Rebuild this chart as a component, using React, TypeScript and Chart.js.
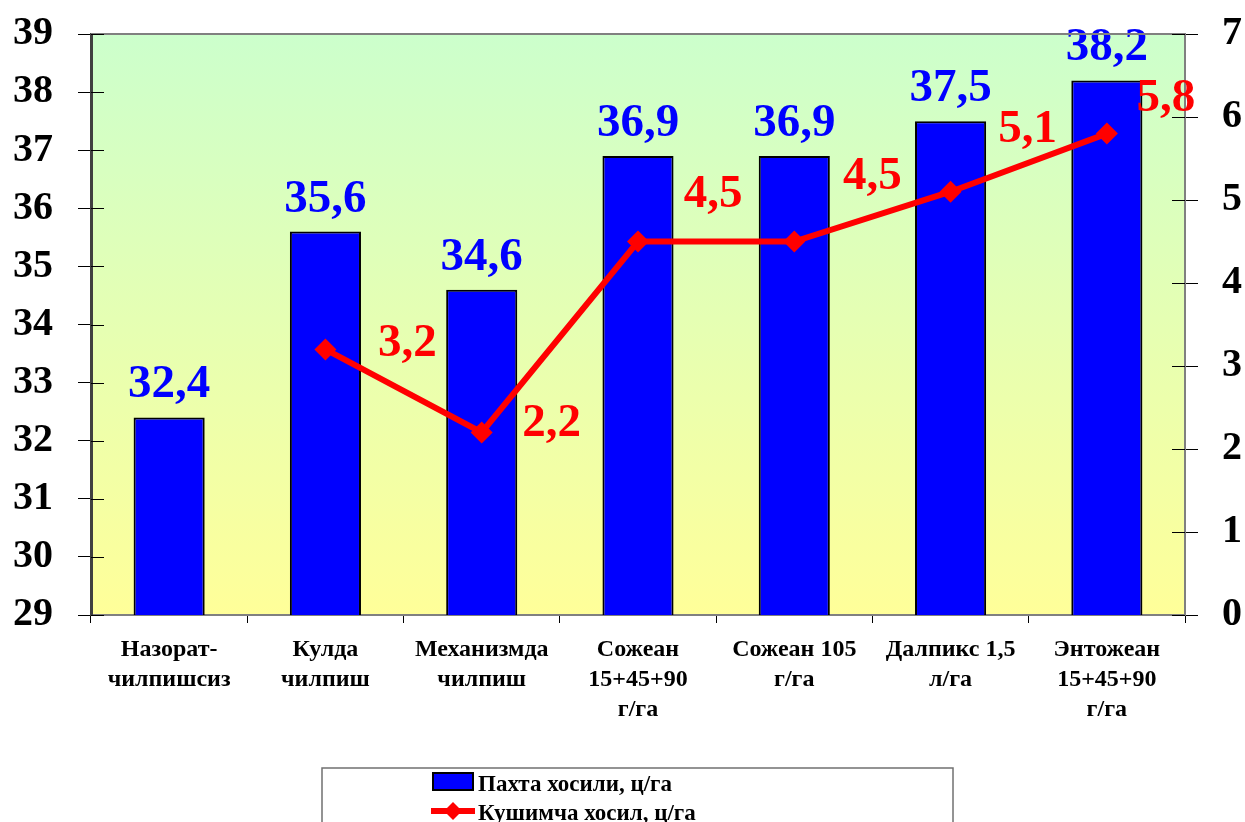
import React, { useEffect, useRef } from "react";
import { Chart, registerables } from "chart.js";

Chart.register(...registerables);

const categories: string[][] = [
  ["Назорат-", "чилпишсиз"],
  ["Кулда", "чилпиш"],
  ["Механизмда", "чилпиш"],
  ["Сожеан", "15+45+90", "г/га"],
  ["Сожеан 105", "г/га"],
  ["Далпикс 1,5", "л/га"],
  ["Энтожеан", "15+45+90", "г/га"],
];
const cottonYield = [32.4, 35.6, 34.6, 36.9, 36.9, 37.5, 38.2];
const extraYield: (number | null)[] = [null, 3.2, 2.2, 4.5, 4.5, 5.1, 5.8];
const leftAxisRange = [29, 39];
const rightAxisRange = [0, 7];
const seriesNames = ["Пахта хосили, ц/га", "Кушимча хосил, ц/га"];
// label offsets (dx, dy) for line value labels relative to the point
const lineLabelOffsets: (number[] | null)[] = [null, [82, -9], [70, -12], [75, -51], [78, -69], [77, -66], [59, -39]];

const FONT = "'Liberation Serif', 'Times New Roman', serif";
const fmt = (v: number) => v.toFixed(1).replace(".", ",");

const bgPlugin = {
  id: "bgPlugin",
  beforeDraw(chart: any) {
    const { ctx, chartArea: a } = chart;
    const g = ctx.createLinearGradient(0, a.top, 0, a.bottom);
    g.addColorStop(0, "#ccffcc");
    g.addColorStop(1, "#ffff99");
    ctx.save();
    ctx.fillStyle = g;
    ctx.fillRect(a.left, a.top, a.right - a.left, a.bottom - a.top);
    ctx.restore();
  },
  afterDraw(chart: any) {
    const { ctx, chartArea: a } = chart;
    ctx.save();
    ctx.strokeStyle = "#808080";
    ctx.lineWidth = 2;
    ctx.beginPath();
    ctx.moveTo(a.left, a.top);
    ctx.lineTo(a.right, a.top);
    ctx.stroke();
    // inner tick marks
    ctx.strokeStyle = "#000";
    ctx.lineWidth = 1;
    const yl = chart.scales.y;
    const yr = chart.scales.y1;
    yl.ticks.forEach((t: any) => {
      const y = Math.round(yl.getPixelForValue(t.value)) + 0.5;
      ctx.beginPath();
      ctx.moveTo(a.left, y);
      ctx.lineTo(a.left + 13, y);
      ctx.stroke();
    });
    yr.ticks.forEach((t: any) => {
      const y = Math.round(yr.getPixelForValue(t.value)) + 0.5;
      ctx.beginPath();
      ctx.moveTo(a.right - 13, y);
      ctx.lineTo(a.right, y);
      ctx.stroke();
    });
    ctx.restore();

    // legend
    const lx = 322, ly = 768, lw = 631;
    ctx.save();
    ctx.strokeStyle = "#707070";
    ctx.lineWidth = 1.5;
    ctx.strokeRect(lx, ly, lw, 100);
    ctx.fillStyle = "#0000ff";
    ctx.fillRect(433, 773, 40, 17);
    ctx.strokeStyle = "#000";
    ctx.lineWidth = 2;
    ctx.strokeRect(433, 773, 40, 17);
    ctx.strokeStyle = "#ff0000";
    ctx.lineWidth = 6;
    ctx.beginPath();
    ctx.moveTo(431, 811);
    ctx.lineTo(475, 811);
    ctx.stroke();
    ctx.fillStyle = "#ff0000";
    ctx.beginPath();
    ctx.moveTo(453 - 9, 811);
    ctx.lineTo(453, 811 - 9);
    ctx.lineTo(453 + 9, 811);
    ctx.lineTo(453, 811 + 9);
    ctx.closePath();
    ctx.fill();
    ctx.fillStyle = "#000";
    ctx.font = `bold 23px ${FONT}`;
    ctx.textAlign = "left";
    ctx.textBaseline = "alphabetic";
    ctx.fillText(seriesNames[0], 478, 791);
    ctx.fillText(seriesNames[1], 478, 820);
    ctx.restore();
  },
};

const labelPlugin = {
  id: "labelPlugin",
  afterDatasetsDraw(chart: any) {
    const { ctx } = chart;
    ctx.save();
    ctx.font = `bold 47px ${FONT}`;
    ctx.textAlign = "center";
    ctx.textBaseline = "alphabetic";
    const barMeta = chart.getDatasetMeta(0);
    ctx.fillStyle = "#0000ff";
    barMeta.data.forEach((el: any, i: number) => {
      ctx.fillText(fmt(cottonYield[i]), el.x, el.y - 20);
    });
    const lineMeta = chart.getDatasetMeta(1);
    ctx.fillStyle = "#ff0000";
    lineMeta.data.forEach((el: any, i: number) => {
      const v = extraYield[i];
      const off = lineLabelOffsets[i];
      if (v == null || !off) return;
      ctx.fillText(fmt(v), el.x + off[0], el.y + off[1] + 16);
    });
    ctx.restore();
  },
};

export default function App() {
  const ref = useRef<HTMLCanvasElement>(null);
  useEffect(() => {
    if (!ref.current) return;
    const chart = new Chart(ref.current, {
      type: "bar",
      data: {
        labels: categories,
        datasets: [
          {
            type: "bar",
            label: seriesNames[0],
            data: cottonYield,
            backgroundColor: "#0000ff",
            borderColor: "#000000",
            borderWidth: 2,
            borderSkipped: false,
            categoryPercentage: 1,
            barPercentage: 0.455,
            yAxisID: "y",
            order: 1,
          },
          {
            type: "line",
            label: seriesNames[1],
            data: extraYield,
            borderColor: "#ff0000",
            backgroundColor: "#ff0000",
            borderWidth: 6,
            pointStyle: "rectRot",
            pointRadius: 11,
            pointBorderWidth: 0,
            spanGaps: false,
            yAxisID: "y1",
            order: 0,
          } as any,
        ],
      },
      options: {
        animation: false,
        responsive: true,
        maintainAspectRatio: false,
        layout: { padding: { top: 34, left: 0, right: 0, bottom: 67 } },
        plugins: {
          legend: { display: false },
          tooltip: { enabled: false },
        },
        scales: {
          x: {
            afterFit(s: any) {
              s.height = 140;
              s.paddingLeft = 0;
              s.paddingRight = 0;
            },
            grid: {
              display: true,
              offset: true,
              drawOnChartArea: false,
              drawTicks: true,
              tickLength: 8,
              color: "#000",
            },
            border: { display: true, color: "#808080", width: 2 },
            ticks: {
              autoSkip: false,
              maxRotation: 0,
              minRotation: 0,
              padding: 12,
              color: "#000",
              font: { family: FONT, size: 24, weight: "bold", lineHeight: 1.25 },
            },
          },
          y: {
            position: "left",
            min: leftAxisRange[0],
            max: leftAxisRange[1],
            afterFit(s: any) {
              s.width = 91;
              s.paddingTop = 0;
              s.paddingBottom = 0;
            },
            grid: {
              drawOnChartArea: false,
              drawTicks: true,
              tickLength: 13,
              color: "#000",
            },
            border: { display: true, color: "#404040", width: 3 },
            ticks: {
              stepSize: 1,
              padding: 25,
              color: "#000",
              font: { family: FONT, size: 40, weight: "bold" },
            },
          },
          y1: {
            position: "right",
            min: rightAxisRange[0],
            max: rightAxisRange[1],
            afterFit(s: any) {
              s.width = 60;
              s.paddingTop = 0;
              s.paddingBottom = 0;
            },
            grid: {
              drawOnChartArea: false,
              drawTicks: true,
              tickLength: 13,
              color: "#000",
            },
            border: { display: true, color: "#808080", width: 2 },
            ticks: {
              stepSize: 1,
              padding: 24,
              color: "#000",
              font: { family: FONT, size: 40, weight: "bold" },
            },
          },
        },
      },
      plugins: [bgPlugin, labelPlugin],
    });
    return () => chart.destroy();
  }, []);
  return (
    <div style={{ position: "fixed", left: 0, top: 0, width: 1245, height: 822, background: "#fff" }}>
      <canvas ref={ref} />
    </div>
  );
}
